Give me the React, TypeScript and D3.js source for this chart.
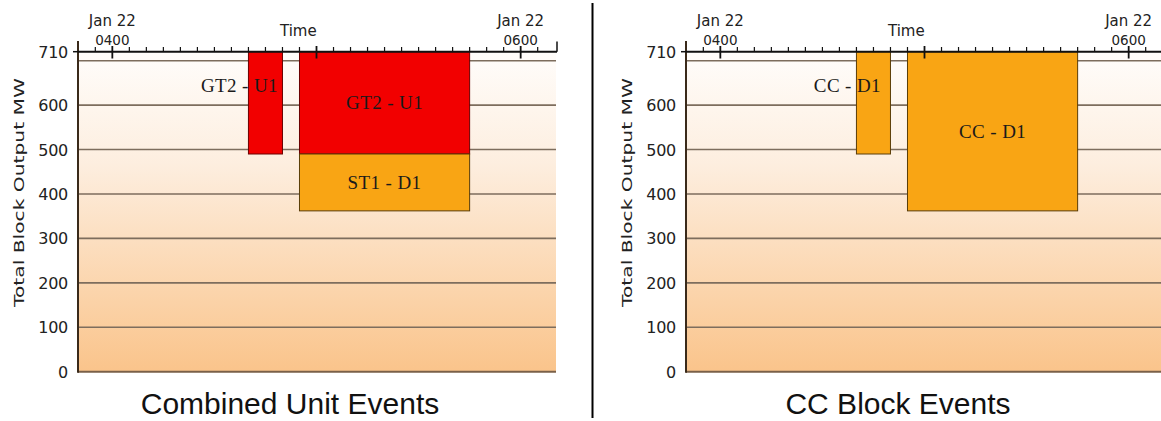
import React from "react";
import * as d3 from "d3";

// ---- data ----
const yTickValues = [0, 100, 200, 300, 400, 500, 600, 710];
const gridValues = [100, 200, 300, 400, 500, 600, 700];
const timeStart = "03:50";
const timeEnd = "06:10";
const majorTimes = ["04:00", "05:00", "06:00"];
const labelledTimes = ["04:00", "06:00"];
const dateLabel = "Jan 22";

const combinedLabels = ["GT2 - U1", "GT2 - U1", "ST1 - D1"];
const combinedStarts = ["04:40", "04:55", "04:55"];
const combinedEnds = ["04:50", "05:45", "05:45"];
const combinedTops = [710, 710, 490];
const combinedBottoms = [490, 490, 362];
const combinedKinds = ["U", "U", "D"];
const combinedLabelPos = ["outside", "inside", "inside"];

const ccLabels = ["CC - D1", "CC - D1"];
const ccStarts = ["04:40", "04:55"];
const ccEnds = ["04:50", "05:45"];
const ccTops = [710, 710];
const ccBottoms = [490, 362];
const ccKinds = ["D", "D"];
const ccLabelPos = ["outside", "inside"];

const panelTitles = ["Combined Unit Events", "CC Block Events"];

// ---- helpers ----
const t = (hhmm: string) => {
  const [h, m] = hhmm.split(":").map(Number);
  return new Date(2010, 0, 22, h, m);
};
const hhmmLabel = (d: Date) => d3.timeFormat("%H%M")(d);

const kindColor: Record<string, string> = { U: "#f20000", D: "#f9a514" };
const kindStroke: Record<string, string> = { U: "#6a0000", D: "#5a3d08" };

const SANS = "'Liberation Sans', Arial, sans-serif";
const VERD = "'DejaVu Sans', Verdana, sans-serif";
const SERIF = "'Liberation Serif', 'Times New Roman', serif";

function Panel({ dx, title, labels, starts, ends, tops, bottoms, kinds, labelPos, gid }: any) {
  const x = d3.scaleTime().domain([t(timeStart), t(timeEnd)]).range([78.3, 554.7]);
  const y = d3.scaleLinear().domain([0, 700, 710]).range([371.7, 60.7, 51.7]);
  const left = 78;
  const right = 556;
  const axisRight = 557;
  const top = y(710);
  const bottom = y(0);
  const minor = d3.timeMinute.every(5)!.range(t("03:55"), t("06:10"));
  const majorSet = new Set(majorTimes);
  return (
    <g transform={`translate(${dx},0)`}>
      <defs>
        <linearGradient id={gid} x1="0" y1="0" x2="0" y2="1">
          <stop offset="0%" stopColor="#fffdfb" />
          <stop offset="35%" stopColor="#fdeedf" />
          <stop offset="100%" stopColor="#fac48b" />
        </linearGradient>
      </defs>
      <rect x={left} y={top} width={right - left} height={bottom - top} fill={`url(#${gid})`} />
      {gridValues.map((v) => (
        <line key={v} x1={left} x2={right} y1={y(v)} y2={y(v)} stroke="#7d6d5d" strokeWidth={1.6} />
      ))}
      <line x1={left} x2={right} y1={bottom} y2={bottom} stroke="#7a6048" strokeWidth={2} />
      {labels.map((lab: string, i: number) => {
        const x0 = x(t(starts[i]));
        const x1 = x(t(ends[i]));
        const y0 = y(tops[i]);
        const y1 = y(bottoms[i]);
        return (
          <rect key={"b" + i} x={x0} y={y0} width={x1 - x0} height={y1 - y0}
            fill={kindColor[kinds[i]]} stroke={kindStroke[kinds[i]]} strokeWidth={1} />
        );
      })}
      {labels.map((lab: string, i: number) => {
        const x0 = x(t(starts[i]));
        const x1 = x(t(ends[i]));
        const y0 = y(tops[i]);
        const y1 = y(bottoms[i]);
        const outside = labelPos[i] === "outside";
        const cx = outside ? x0 - 9 : (x0 + x1) / 2;
        const cy = outside ? y0 + 34 : (y0 + y1) / 2;
        return (
          <text key={"l" + i} x={cx} y={cy + 6.5} textAnchor="middle" fontFamily={SERIF}
            fontSize={19} fill="#1a1a1a" letterSpacing={0.4}>{lab}</text>
        );
      })}
      {/* left axis */}
      <line x1={left} x2={left} y1={41} y2={bottom + 1} stroke="#3a2a1a" strokeWidth={2} />
      <line x1={73} x2={left} y1={top} y2={top} stroke="#111" strokeWidth={1.5} />
      {/* top axis */}
      <line x1={left} x2={axisRight} y1={top} y2={top} stroke="#111" strokeWidth={2} />
      <line x1={axisRight} x2={axisRight} y1={41.5} y2={top} stroke="#111" strokeWidth={1.5} />
      {minor.map((d, i) => {
        const key = d3.timeFormat("%H:%M")(d);
        const major = majorSet.has(key);
        const xx = x(d);
        return major ? (
          <line key={i} x1={xx} x2={xx} y1={46} y2={58.5} stroke="#111" strokeWidth={1.8} />
        ) : (
          <line key={i} x1={xx} x2={xx} y1={47} y2={top} stroke="#111" strokeWidth={1.2} />
        );
      })}
      {labelledTimes.map((s) => (
        <g key={s} fontFamily={VERD} fill="#222" textAnchor="middle">
          <text x={x(t(s))} y={26} fontSize={15}>{dateLabel}</text>
          <text x={x(t(s))} y={45} fontSize={13.5}>{hhmmLabel(t(s))}</text>
        </g>
      ))}
      <text x={280} y={36} fontFamily={VERD} fontSize={15} fill="#222">Time</text>
      {/* y ticks */}
      {yTickValues.map((v) => (
        <text key={v} x={68} y={y(v) + 6} textAnchor="end" fontFamily={VERD} fontSize={16}
          fill="#222" letterSpacing={-0.3}>{v}</text>
      ))}
      <text transform="translate(24,192.5) rotate(-90)" textAnchor="middle" fontFamily={VERD}
        fontSize={14} fill="#222" textLength={229} lengthAdjust="spacingAndGlyphs">
        Total Block Output MW
      </text>
      <text x={290} y={413.5} textAnchor="middle" fontFamily={SANS} fontSize={30} fill="#111">{title}</text>
    </g>
  );
}

export default function App() {
  return (
    <svg width={1161} height={421} style={{ position: "absolute", left: 0, top: 0, background: "#fff" }}>
      <rect x={0} y={0} width={1161} height={421} fill="#fff" />
      <Panel dx={0} title={panelTitles[0]} labels={combinedLabels} starts={combinedStarts}
        ends={combinedEnds} tops={combinedTops} bottoms={combinedBottoms} kinds={combinedKinds}
        labelPos={combinedLabelPos} gid="bgA" />
      <Panel dx={608} title={panelTitles[1]} labels={ccLabels} starts={ccStarts}
        ends={ccEnds} tops={ccTops} bottoms={ccBottoms} kinds={ccKinds}
        labelPos={ccLabelPos} gid="bgB" />
      <line x1={592.5} x2={592.5} y1={3} y2={418} stroke="#000" strokeWidth={2} />
    </svg>
  );
}
